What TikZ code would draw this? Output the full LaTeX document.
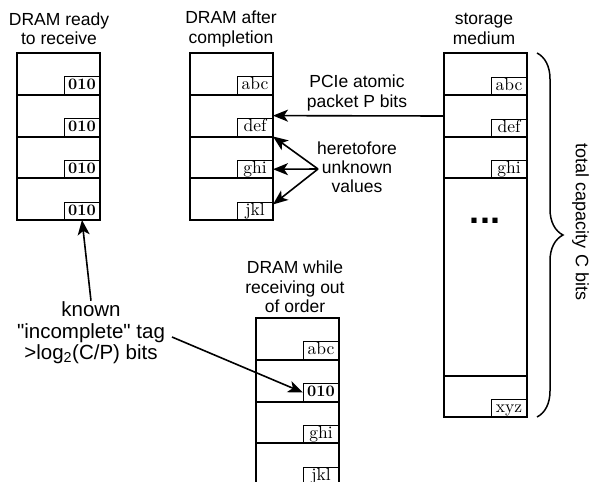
\documentclass[tikz,border=0pt]{standalone}
\usepackage{fontspec}
\newfontfamily\lab{Liberation Sans}
\newfontfamily\tagf{lmroman10-regular.otf}[BoldFont=lmroman10-bold.otf]
\usetikzlibrary{arrows.meta,decorations.pathreplacing}
\begin{document}
\begin{tikzpicture}[x=1pt,y=-1pt,
  cell/.style={draw, line width=2pt, minimum width=83pt, anchor=north west, inner sep=0pt, outer sep=0pt},
  tag/.style={draw=black, line width=0.9pt, anchor=south east, minimum width=36pt, minimum height=18pt, inner sep=0pt, outer sep=0pt, text height=12pt, text depth=4pt, font=\tagf\fontsize{17.5}{17.5}\selectfont},
  btag/.style={tag, font=\tagf\fontsize{16}{16}\selectfont\bfseries},
  lbl/.style={align=center, inner sep=1pt, font=\lab\fontsize{17.5}{19.2}\selectfont},
  arr/.style={line width=1.6pt, -{Stealth[length=15pt,width=12pt,inset=4pt]}},
]
\useasboundingbox (0,0) rectangle (590,482);

% left stack: DRAM ready to receive
\foreach \i in {1,...,4}{
  \node[cell, minimum height=41.75pt] (L\i) at (17,{53+41.75*(\i-1)}) {};
  \node[btag] (Lt\i) at (L\i.south east) {010};
}

% DRAM after completion
\foreach \i/\t in {1/abc,2/def,3/ghi,4/jkl}{
  \node[cell, minimum height=41.75pt] (D\i) at (190,{53+41.75*(\i-1)}) {};
  \node[tag] (Dt\i) at (D\i.south east) {\t};
}

% storage medium
\node[cell, minimum height=42pt] (S1) at (444,53) {};
\node[cell, minimum height=42pt] (S2) at (444,95) {};
\node[cell, minimum height=41pt] (S3) at (444,137) {};
\node[cell, minimum height=198pt] (S4) at (444,178) {};
\node[cell, minimum height=41pt] (S5) at (444,376) {};
\node[tag] (St1) at (S1.south east) {abc};
\node[tag] (St2) at (S2.south east) {def};
\node[tag] (St3) at (S3.south east) {ghi};
\node[tag] (St5) at (S5.south east) {xyz};
\node[font=\lab\bfseries\fontsize{36}{36}\selectfont, inner sep=0pt] (dots) at (485,221) {...};

% DRAM while receiving out of order
\begin{scope}
\clip (0,0) rectangle (590,482);
\foreach \i in {1,...,4}{
  \node[cell, minimum height=41.75pt] (B\i) at (256,{318+41.75*(\i-1)}) {};
}
\node[tag] (Bt1) at (B1.south east) {abc};
\node[btag] (Bt2) at (B2.south east) {010};
\node[tag] (Bt3) at (B3.south east) {ghi};
\node[tag] (Bt4) at (B4.south east) {jkl};
\end{scope}

% titles
\node[lbl] (t1) at (59,29) {DRAM ready\\to receive};
\node[lbl] (t2) at (231,29) {DRAM after\\completion};
\node[lbl] (t3) at (484,29) {storage\\medium};
\node[lbl, font=\lab\fontsize{17.5}{19.5}\selectfont] (t4) at (295,287) {DRAM while\\receiving out\\of order};

% labels
\node[lbl] (pcie) at (357,93) {PCIe atomic\\packet P bits};
\node[lbl] (hu) at (357,167) {heretofore\\unknown\\values};
\node[lbl, font=\lab\fontsize{20.5}{21.5}\selectfont] (kn) at (91,333) {known\\"incomplete" tag\\>log\textsubscript{2}(C/P) bits};
\node[rotate=-90, inner sep=0pt, font=\lab\fontsize{18}{20}\selectfont] (tc) at (580.5,222) {total capacity C bits};

% brace
\coordinate (bt) at (537,53);
\coordinate (bb) at (537,417);
\draw[line width=1.5pt, decorate, decoration={brace, amplitude=26pt}] (bt) -- (bb);

% arrows
\draw[arr] (S2.west) -- (D2.east);
\coordinate (hsrc) at (318,169);
\draw[arr] (hsrc) -- (Dt2.south east);
\draw[arr] (hsrc) -- (Dt3.east);
\draw[arr] (hsrc) -- (Dt4.20);
\draw[arr] (kn.north) -- (Lt4.south);
\coordinate (knr) at (172,337);
\draw[arr] (knr) -- (Bt2.west);
\end{tikzpicture}
\end{document}
